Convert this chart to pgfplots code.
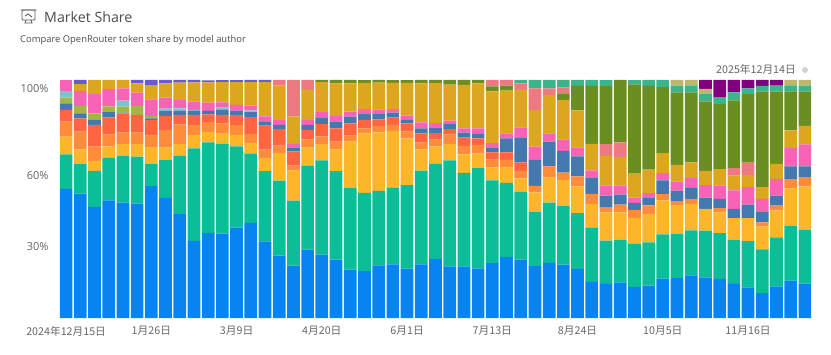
\documentclass[border=0pt]{standalone}
\usepackage{fontspec}
\usepackage{pgfplots}
\usepackage{pgfplotstable}
\pgfplotsset{compat=1.18}
\setmainfont{Open Sans}
\newfontfamily\cjk{Noto Sans CJK SC}
\definecolor{cB}{HTML}{0784F0}
\definecolor{cG}{HTML}{0BBE97}
\definecolor{cY}{HTML}{FDB52A}
\definecolor{cO}{HTML}{FF8C3A}
\definecolor{cR}{HTML}{FF6540}
\definecolor{cS}{HTML}{4478AE}
\definecolor{cA}{HTML}{A0B840}
\definecolor{cL}{HTML}{80C0D0}
\definecolor{cP}{HTML}{F863B5}
\definecolor{cAu}{HTML}{DCA61F}
\definecolor{cSa}{HTML}{EC7A80}
\definecolor{cOl}{HTML}{6B8E23}
\definecolor{cT}{HTML}{3CB48A}
\definecolor{cK}{HTML}{BDB76B}
\definecolor{cPu}{HTML}{800080}
\definecolor{cV}{HTML}{6A5ACD}
\pgfplotstableread{
k B G Y O R S A L P Au Sa Ol Sb T K Pu V Pk
0 54.3 14.5 7.4 6.3 4.9 2.8 2.4 2.8 0 0 0 0 0 0 0 0 0 4.6
1 52.3 12.4 6.2 7.4 5.6 2.1 3.1 0 6.3 2.9 0 0 0 0 0 0 1.7 0
2 46.7 15.1 4.2 6.0 9.1 2.1 2.8 0 8.1 5.9 0 0 0 0 0 0 0 0
3 49.4 17.9 4.8 4.9 7.3 2.2 2.4 0 7.3 3.9 0 0 0 0 0 0 0 0
4 48.5 19.7 4.9 4.8 8.1 0.3 2.5 2.5 5.2 3.5 0 0 0 0 0 0 0 0
5 48.1 19.7 5.3 4.8 7.4 0 3.8 0 5.6 3.9 0 0 0 0 0 0 1.4 0
6 55.4 9.5 6.7 5.0 6.6 0.7 1.0 0 7.0 5.7 0 0 0 0 0 0 2.4 0
7 50.5 15.8 5.3 7.4 5.9 2.0 0 1.1 4.6 6.0 0 0 0 0 0 0 1.4 0
8 43.6 24.5 5.0 8.3 3.9 1.8 0 1.0 3.5 7.3 0 0 0 0 0 0 1.1 0
9 32.4 38.9 5.5 4.3 4.2 1.7 0 0.4 3.5 8.1 0 0 0 0 0 0 1.0 0
10 35.8 38.0 4.3 4.3 3.2 1.4 0 0 3.5 8.5 0 0 0 0 0 0 0.8 0
11 35.4 37.9 4.2 4.3 3.5 2.1 0 1.0 2.2 8.5 0 0 0 0 0 0 0.8 0
12 38.0 34.1 4.8 4.2 4.2 1.8 0 0 2.4 9.6 0 0 0 0 0 0 0.8 0
13 40.0 29.0 4.5 3.8 7.1 2.1 0 0.7 2.0 9.9 0 0 0 0 0 0 1.0 0
14 32.2 29.5 5.6 3.4 10.1 1.8 0 0 2.1 14.4 0 0 0 0 0 0 1.0 0
15 26.2 31.5 11.6 3.1 7.0 1.7 0 0 2.0 14.5 0 0 2.5 0 0 0 0 0
16 22.0 27.3 12.6 2.1 6.0 1.4 0 0 1.8 11.5 0 0 15.4 0 0 0 0 0
17 28.7 35.2 7.7 3.5 3.9 2.1 0 0 2.1 12.6 0 0 4.2 0 0 0 0 0
18 26.6 39.6 6.9 3.2 5.2 2.8 0 0 2.2 12.6 0 1.0 0 0 0 0 0 0
19 24.5 37.2 9.2 3.2 5.6 2.8 0 0 2.4 13.7 0 1.4 0 0 0 0 0 0
20 20.3 34.5 19.3 2.5 5.2 2.8 0 0 2.1 11.9 0 1.4 0 0 0 0 0 0
21 19.7 32.9 25.0 2.1 3.5 2.5 0 0 2.1 11.0 0 1.1 0 0 0 0 0 0
22 22.1 31.3 24.6 2.7 2.8 2.5 0 0 1.7 11.2 0 1.1 0 0 0 0 0 0
23 22.5 32.2 23.9 2.5 3.1 2.1 0 0 1.5 11.0 0 1.1 0 0 0 0 0 0
24 20.7 35.1 19.7 2.8 3.5 1.7 0 0 1.5 13.8 0 1.1 0 0 0 0 0 0
25 22.5 39.4 9.0 2.9 3.8 2.1 0 0 2.5 16.4 0 1.4 0 0 0 0 0 0
26 24.8 40.0 7.3 2.8 2.8 2.1 0 0 2.1 16.8 0 1.4 0 0 0 0 0 0
27 21.7 44.5 6.9 3.9 2.4 2.1 0 0 1.4 15.2 0 2.0 0 0 0 0 0 0
28 21.7 39.3 7.7 3.6 3.5 2.1 0 0 1.8 18.2 0 2.1 0 0 0 0 0 0
29 20.8 42.2 6.2 3.5 2.8 2.1 0 0 2.1 18.9 0 1.4 0 0 0 0 0 0
30 23.1 34.7 5.5 3.2 3.1 1.8 0 0 2.1 21.7 0 2.1 2.8 0 0 0 0 0
31 25.6 31.2 6.4 3.2 3.2 5.9 0 0 2.1 17.9 0 2.1 2.4 0 0 0 0 0
32 24.5 28.5 5.7 3.1 3.6 10.5 0 0 4.2 15.7 0 0 2.8 1.4 0 0 0 0
33 21.8 22.9 8.1 2.7 0 11.2 0 0 5.3 15.4 0 0 9.1 3.5 0 0 0 0
34 23.2 25.3 10.6 4.5 0.3 10.2 0 0 3.5 16.1 0 0 2.8 3.5 0 0 0 0
35 22.4 24.6 11.0 3.1 0 9.1 0 0 4.9 16.5 0 2.8 2.5 3.1 0 0 0 0
36 20.6 23.5 11.2 4.2 0 8.4 0 0 3.8 15.5 0 10.3 0 2.5 0 0 0 0
37 15.2 22.7 10.1 4.2 0 6.6 0 0 3.2 11.2 0 24.3 0 2.5 0 0 0 0
38 14.3 18.2 11.9 2.2 0 4.8 0 0 4.3 12.4 5.0 24.3 0 2.5 0 0 0 0
39 15.0 17.9 11.5 3.2 0 4.2 0 0 3.9 11.9 6.2 26.3 0 0 0 0 0 0
40 13.1 18.0 11.0 3.2 0 3.1 0 0 2.2 10.1 0 37.5 0 1.7 0 0 0 0
41 13.6 18.2 12.0 3.5 0 3.1 0 0 2.1 9.8 0 35.2 0 2.5 0 0 0 0
42 16.5 18.6 14.3 2.7 0 5.7 0 0 3.1 8.4 0 27.7 0 3.1 0 0 0 0
43 16.8 18.7 12.0 1.4 0 4.6 0 0 3.8 7.0 0 30.5 0 2.8 2.4 0 0 0
44 17.9 18.9 11.2 2.0 0 4.9 0 0 3.9 6.6 0 29.4 0 2.9 2.4 0 0 0
45 17.1 19.6 9.1 0 0 4.8 0 0 5.2 6.0 0 29.2 0 3.1 2.2 3.8 0 0
46 16.4 19.3 8.7 1.8 0 3.9 0 0 5.6 6.9 0 27.3 0 2.9 0 7.3 0 0
47 14.3 18.6 9.1 0 0 3.9 0 0 7.7 6.2 3.2 28.4 0 3.4 0 5.3 0 0
48 12.9 19.4 9.7 0 0 5.6 0 0 7.4 5.0 5.3 28.8 0 2.4 0 3.5 0 0
49 10.5 18.3 9.7 1.7 0 4.3 0 0 5.6 4.9 0 40.1 0 2.4 0 2.5 0 0
50 13.3 20.6 11.3 2.0 0 4.2 0 0 7.1 6.3 0 30.3 0 2.5 0 2.4 0 0
51 15.7 23.1 15.7 3.6 0 5.6 0 0 7.8 7.3 0 16.4 0 2.5 2.4 0 0 0
52 14.4 22.7 18.2 3.9 0 4.5 0 0 9.2 7.8 0 14.4 0 2.5 2.4 0 0 0
}\shares
\newcommand\series[2]{\addplot[fill=#2,draw=none] table[x=k,y=#1]{\shares};}
\begin{document}
\begin{tikzpicture}[x=1pt,y=1pt]
\useasboundingbox (0,0) rectangle (831,354);
\begin{axis}[at={(59pt,36pt)},anchor=south west,scale only axis,width=753pt,height=238pt,
  ybar stacked,bar width=12.7pt,xmin=-0.5,xmax=52.5,ymin=0,ymax=100,
  axis line style={draw=none},major tick length=0pt,
  xtick={0,6,12,18,24,30,36,42,48},
  xticklabels={2024年12月15日,1月26日,3月9日,4月20日,6月1日,7月13日,8月24日,10月5日,11月16日},
  ytick={30,60,96.6},yticklabels={30\%,60\%,100\%},
  xticklabel style={font=\cjk\fontsize{10.7}{12}\selectfont,text=black!60,yshift=-5pt},
  yticklabel style={font=\fontsize{11}{12}\selectfont,text=black!60,xshift=-7pt},
  /pgf/number format/assume math mode=true]
\series{B}{cB}
\series{G}{cG}
\series{Y}{cY}
\series{O}{cO}
\series{R}{cR}
\series{S}{cS}
\series{A}{cA}
\series{L}{cL}
\series{P}{cP}
\series{Au}{cAu}
\series{Sa}{cSa}
\series{Ol}{cOl}
\series{Sb}{cSa}
\series{T}{cT}
\series{K}{cK}
\series{Pu}{cPu}
\series{V}{cV}
\series{Pk}{cP}
\end{axis}
\node[anchor=base west,inner sep=0pt,font=\fontsize{14.2}{16}\selectfont,text=black!70] at (44,331) {Market Share};
\node[anchor=base west,inner sep=0pt,font=\fontsize{9.4}{11}\selectfont,text=black!70] at (20,311) {Compare OpenRouter token share by model author};
\node[anchor=base east,inner sep=0pt,font=\cjk\fontsize{10.7}{12}\selectfont,text=black!60] at (796,280) {2025年12月14日};
\fill[black!18] (805,284) circle (3);
\draw[black!65,line width=0.9pt,rounded corners=1pt] (22,344) rectangle (35,334);
\draw[black!65,line width=0.9pt] (20.5,344) -- (36.5,344) (26,334) -- (25,331) -- (32,331) -- (31,334) (25,338) -- (28,340) -- (32,337);
\end{tikzpicture}
\end{document}
